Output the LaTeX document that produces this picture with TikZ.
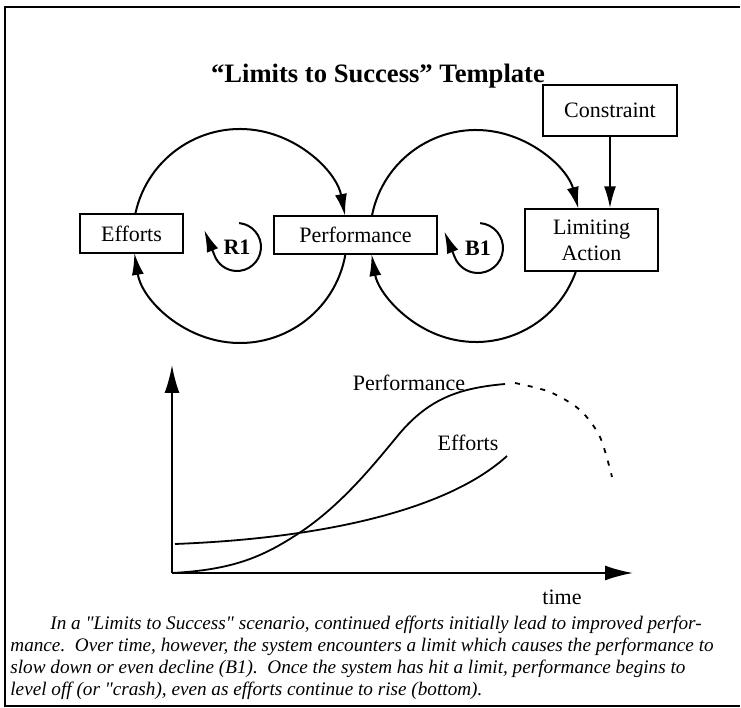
\documentclass[tikz,border=0pt]{standalone}
\usepackage{fontspec}
\setmainfont{Liberation Serif}
\newfontfamily\notefont{Liberation Serif}
\usetikzlibrary{arrows.meta}
\tikzset{
  box/.style={draw, line width=0.7pt, inner sep=0pt, align=center},
  link/.style={line width=1pt, -{Latex[length=11pt,width=6pt]}},
  axis/.style={line width=1pt, -{Latex[length=14pt,width=7.5pt]}},
  curve/.style={line width=0.9pt},
  loopmark/.style={font=\bfseries\fontsize{11}{12}\selectfont},
}
\begin{document}
\begin{tikzpicture}[x=0.5pt,y=0.5pt,font=\fontsize{11}{12}\selectfont]
\useasboundingbox (0,0) rectangle (741,708);
% frame, cut off at the right
\draw[line width=0.8pt] (740,701) -- (5,701) -- (5,2) -- (740,2);
\node[font=\bfseries\fontsize{13.3}{15}\selectfont] (title) at (378,632) {“Limits to Success” Template};

% boxes
\node[box, minimum width=51.5pt, minimum height=19.5pt] (eff) at (131.5,474.5) {Efforts};
\node[box, minimum width=81.5pt, minimum height=19pt] (perf) at (355.5,473) {Performance};
\node[box, minimum width=66.5pt, minimum height=31pt] (lim) at (591.5,468) {Limiting\\[1pt]Action};
\node[box, minimum width=67pt, minimum height=25.5pt] (cons) at (610,597.5) {Constraint};

% the two loops
\coordinate (c1) at (240,472);
\coordinate (c2) at (476,472);
\draw[link] (c1) ++(168.1:107) arc[start angle=168.1, end angle=10.8, radius=107];
\draw[link] (c1) ++(-9.7:107) arc[start angle=-9.7, end angle=-170.9, radius=107];
\draw[link] (c2) ++(169.1:106) arc[start angle=169.1, end angle=14.8, radius=106];
\draw[link] (c2) ++(-19.3:106) arc[start angle=-19.3, end angle=-170.2, radius=106];
\draw[link] (cons) -- (cons |- lim.north);

\node[loopmark] (r1) at (237,461) {R1};
\draw[link] (r1) ++(85:24) arc[start angle=85, end angle=-158, radius=24] -- ++(112:28);
\node[loopmark] (b1) at (478,460) {B1};
\draw[link] (b1) ++(85:25) arc[start angle=85, end angle=-158, radius=25] -- ++(112:28);

% graph
\coordinate (o) at (172,135);
\coordinate (ytip) at (172,343);
\coordinate (xtip) at (633,135);
\draw[axis] (o) -- (ytip);
\draw[axis] (o) -- (xtip);
\node (time) at (562,111) {time};
\draw[curve] (172,135) .. controls (230,138) and (260,150) .. (293,171)
  .. controls (340,200) and (375,245) .. (400,275)
  .. controls (430,310) and (460,320) .. (505,324);
\draw[curve, dash pattern=on 2.5pt off 4pt] plot[smooth] coordinates {(515,325) (550,316) (580,298) (600,271) (612,231)};
\draw[curve] (175,164) .. controls (330,170) and (450,200) .. (507,252);
\node (perflbl) at (409,325) {Performance};
\node (efflbl) at (468,265) {Efforts};

% caption
\node[anchor=north west, inner sep=0pt, align=left, font=\notefont\itshape\fontsize{9.6}{10.85}\selectfont] (note) at (10,92)
  {\hspace{20pt}In a "Limits to Success" scenario, continued efforts initially lead to improved perfor-\\
   mance.\ \ Over time, however, the system encounters a limit which causes the performance to\\
   slow down or even decline (B1).\ \ Once the system has hit a limit, performance begins to\\
   level off (or "crash), even as efforts continue to rise (bottom).};
\end{tikzpicture}
\end{document}
